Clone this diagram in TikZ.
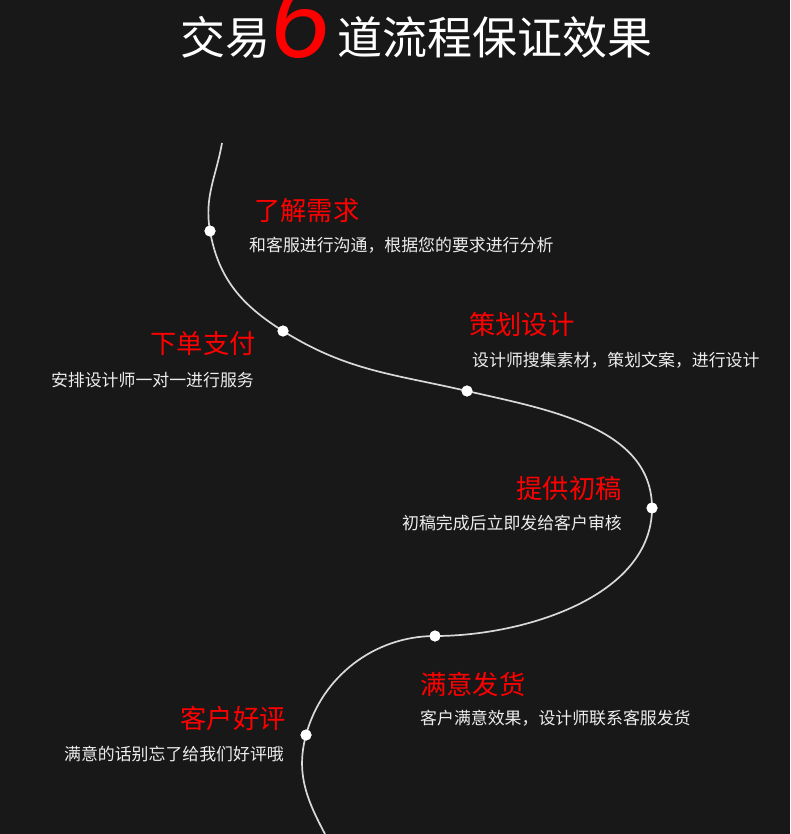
\documentclass[tikz,border=0pt]{standalone}
\usepackage{fontspec}
\newfontfamily\cjk{Noto Sans CJK SC}
\newfontfamily\digitfont{Liberation Sans}
\definecolor{bg}{HTML}{181818}
\definecolor{hred}{HTML}{FF0000}
\definecolor{sub}{HTML}{EDEDED}
\begin{document}
\begin{tikzpicture}[x=1pt,y=1pt,
  head/.style={text=hred,font=\cjk\fontsize{26.3}{26.3}\selectfont,inner sep=0pt},
  desc/.style={text=sub,font=\cjk\fontsize{16.9}{16.9}\selectfont,inner sep=0pt},
  titletext/.style={text=white,font=\cjk\fontsize{45}{45}\selectfont,inner sep=0pt},
  dot/.style={circle,fill=white,minimum size=11pt,inner sep=0pt},
  pathline/.style={draw=white!85!black,line width=1.7pt}]
\fill[bg] (0,0) rectangle (790,-834);
\useasboundingbox (0,0) rectangle (790,-834);
% title
\node[titletext,anchor=east] (t1) at (271,-37) {交易};
\node[anchor=base west,text=hred,font=\digitfont\itshape\fontsize{108}{108}\selectfont,inner sep=0pt] (six) at (270,-58) {6};
\node[titletext,anchor=west] (t2) at (337,-37) {道流程保证效果};
% curve points
\coordinate (s) at (222,-143);
\node[dot] (p1) at (210,-231) {};
\node[dot] (p2) at (283,-331) {};
\node[dot] (p3) at (467,-391) {};
\node[dot] (p4) at (652,-508) {};
\node[dot] (p5) at (435,-636) {};
\node[dot] (p6) at (306,-735) {};
\coordinate (e) at (325,-834);
\draw[pathline] (s) to[out=-100,in=100] (p1.center)
  to[out=-80,in=148] (p2.center)
  to[out=-32,in=167] (p3.center)
  to[out=-13,in=90,looseness=0.95] (p4.center)
  to[out=-90,in=0,looseness=0.9] (p5.center)
  to[out=180,in=75,looseness=0.95] (p6.center)
  to[out=-105,in=118] (e);
\foreach \p in {p1,p2,p3,p4,p5,p6} \fill[white] (\p) circle (5.5pt);
% labels
\node[head,anchor=west] (h1) at (254,-211) {了解需求};
\node[desc,anchor=west] (d1) at (249,-245) {和客服进行沟通，根据您的要求进行分析};
\node[head,anchor=west] (h2) at (469,-324) {策划设计};
\node[desc,anchor=west] (d2) at (472,-360) {设计师搜集素材，策划文案，进行设计};
\node[head,anchor=east] (h3) at (256,-344) {下单支付};
\node[desc,anchor=east] (d3) at (254,-380) {安排设计师一对一进行服务};
\node[head,anchor=east] (h4) at (622,-488) {提供初稿};
\node[desc,anchor=east] (d4) at (622,-523) {初稿完成后立即发给客户审核};
\node[head,anchor=west] (h5) at (420,-684) {满意发货};
\node[desc,anchor=west] (d5) at (420,-718) {客户满意效果，设计师联系客服发货};
\node[head,anchor=east] (h6) at (286,-718) {客户好评};
\node[desc,anchor=east] (d6) at (284,-754) {满意的话别忘了给我们好评哦};
\end{tikzpicture}
\end{document}
